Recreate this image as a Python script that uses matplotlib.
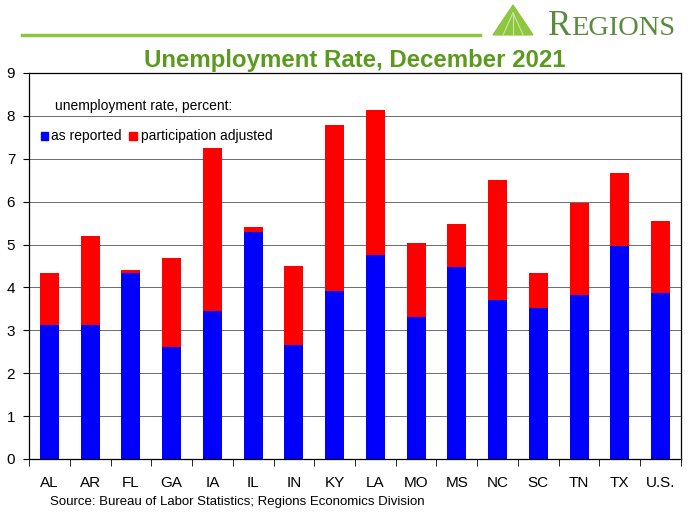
import numpy as np
import matplotlib
matplotlib.use("Agg")
import matplotlib.pyplot as plt
from matplotlib.patches import Polygon, Rectangle
from matplotlib.lines import Line2D

plt.rcParams['font.family'] = ['Liberation Sans', 'DejaVu Sans']

states = ['AL', 'AR', 'FL', 'GA', 'IA', 'IL', 'IN', 'KY', 'LA', 'MO',
          'MS', 'NC', 'SC', 'TN', 'TX', 'U.S.']
as_reported = [3.12, 3.12, 4.33, 2.61, 3.46, 5.30, 2.66, 3.92, 4.75, 3.31,
               4.48, 3.71, 3.52, 3.82, 4.97, 3.87]
participation_adjusted = [4.34, 5.21, 4.40, 4.69, 7.25, 5.42, 4.51, 7.78, 8.14, 5.04,
                          5.49, 6.50, 4.34, 5.97, 6.66, 5.56]
yticks = list(range(0, 10))

green = '#5b9a1e'
logo_green = '#5a8a3c'

fig = plt.figure(figsize=(6.91, 5.13), dpi=100)
ax = fig.add_axes([0.042, 0.1053, 0.9435, 0.7524])

x = np.arange(len(states))
extra = np.array(participation_adjusted) - np.array(as_reported)
ax.bar(x, as_reported, width=0.47, color='#0000ff', zorder=3)
ax.bar(x, extra, bottom=as_reported, width=0.47, color='#ff0000', zorder=3)

ax.set_xlim(-0.5, len(states) - 0.5)
ax.set_ylim(0, 9)
ax.set_yticks(yticks)
ax.set_yticklabels([str(t) for t in yticks], fontsize=11)
ax.yaxis.grid(True, color='#555555', lw=0.6, zorder=0)
ax.set_axisbelow(True)

ax.set_xticks(x)
ax.set_xticklabels(states, fontsize=11)
ax.tick_params(axis='x', length=0, pad=12)
ax.set_xticks(np.arange(-0.5, len(states)), minor=True)
ax.tick_params(axis='x', which='minor', length=5, direction='out')
ax.tick_params(axis='y', length=4, direction='out', pad=6)
for s in ax.spines.values():
    s.set_color('black')
    s.set_linewidth(0.9)

# legend text and markers
ax.text(0.04, 0.915, 'unemployment rate, percent:', transform=ax.transAxes,
        fontsize=10, va='center')
ax.add_patch(Rectangle((0.018, 0.826), 0.011, 0.02, transform=ax.transAxes,
                       color='#0000ff', clip_on=False))
ax.text(0.033, 0.836, 'as reported', transform=ax.transAxes, fontsize=10, va='center')
ax.add_patch(Rectangle((0.154, 0.826), 0.011, 0.02, transform=ax.transAxes,
                       color='#ff0000', clip_on=False))
ax.text(0.171, 0.836, 'participation adjusted', transform=ax.transAxes,
        fontsize=10, va='center')

# title
fig.text(0.514, 0.882, 'Unemployment Rate, December 2021', color=green,
         fontsize=17.3, fontweight='bold', ha='center', va='center')

# header line and logo
fig.add_artist(Line2D([0.032, 0.695], [0.932, 0.932], color='#8dc63f', lw=2.5))
fig.add_artist(Polygon([[0.7135, 0.932], [0.7713, 0.932], [0.7424, 0.99]],
                       closed=True, color='#8dc63f'))
for xe in [0.728, 0.7424, 0.757]:
    fig.add_artist(Line2D([0.7424, xe], [0.975, 0.932], color='#c8e6a0', lw=0.8))
fig.text(0.793, 0.932, 'R', color=logo_green, fontsize=25, family='Liberation Serif',
         va='baseline')
fig.text(0.826, 0.932, 'EGIONS', color=logo_green, fontsize=20.5,
         family='Liberation Serif', va='baseline')

# source
fig.text(0.072, 0.022, 'Source: Bureau of Labor Statistics; Regions Economics Division',
         fontsize=9.5, va='center')

fig.savefig('out.png', dpi=100)
